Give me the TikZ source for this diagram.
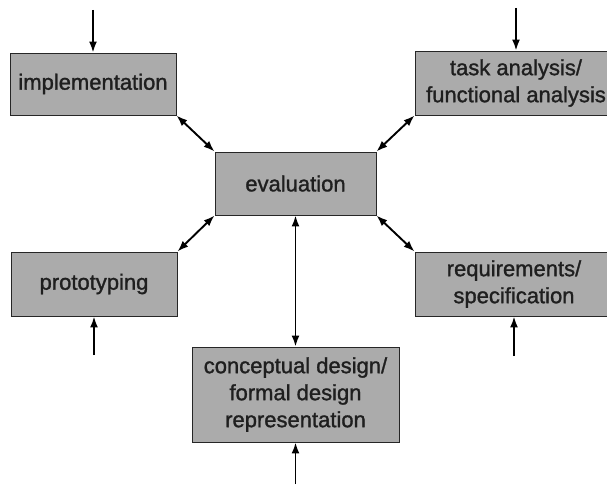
\documentclass[tikz,border=0pt]{standalone}
\usepackage{fontspec}
\setmainfont{Liberation Sans}
\newfontfamily\stagefont{Liberation Sans}[RawFeature={embolden=1.3}]
\usetikzlibrary{arrows.meta}
\begin{document}
\begin{tikzpicture}[x=1pt,y=-1pt,
  stage/.style={draw=black!85, line width=0.9pt, fill=black!33, inner sep=0pt,
    align=center, font=\stagefont\fontsize{22}{27}\selectfont, text=black!88},
  link/.style={line width=1.9pt, {Latex[length=11pt,width=8pt]}-{Latex[length=11pt,width=8pt]}},
  feed/.style={line width=1.9pt, -{Latex[length=11pt,width=8pt]}}]
\useasboundingbox (0,0) rectangle (607,484);

% stages of the cycle
\node[stage, minimum width=166pt, minimum height=62pt] (impl) at (93,84) {implementation};
\node[stage, minimum width=202pt, minimum height=64pt] (task) at (516,83) {task analysis/\\functional analysis};
\node[stage, minimum width=161pt, minimum height=63pt] (eval) at (295.5,183.5) {evaluation};
\node[stage, minimum width=166pt, minimum height=64pt] (proto) at (94,284) {prototyping};
\node[stage, minimum width=198pt, minimum height=64pt] (req) at (514,284) {requirements/\\specification};
\node[stage, minimum width=207pt, minimum height=95pt] (concept) at (295.5,394.5) {conceptual design/\\formal design\\representation};

% free ends of the entry arrows
\coordinate (inImpl) at (impl.north |- 0,10);
\coordinate (inTask) at (task.north |- 0,8);
\coordinate (inProto) at (proto.south |- 0,355);
\coordinate (inReq) at (req.south |- 0,356);
\coordinate (inConcept) at (concept.south |- 0,484);

\draw[feed] (inImpl) -- (impl.north);
\draw[feed] (inTask) -- (task.north);
\draw[feed] (inProto) -- (proto.south);
\draw[feed] (inReq) -- (req.south);
\draw[feed] (inConcept) -- (concept.south);

% links with evaluation
\draw[link] (impl.south east) -- (eval.north west);
\draw[link] (task.south west) -- (eval.north east);
\draw[link] (proto.north east) -- (eval.south west);
\draw[link] (req.north west) -- (eval.south east);
\draw[link] (eval.south) -- (concept.north);
\end{tikzpicture}
\end{document}
